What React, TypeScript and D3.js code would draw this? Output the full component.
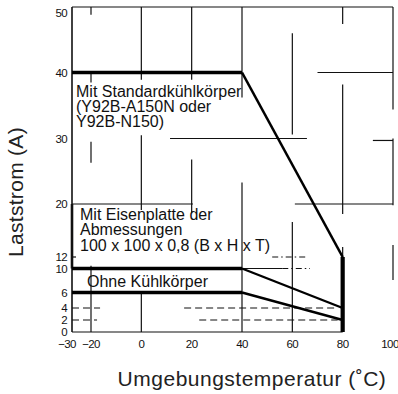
import React from "react"
import * as d3 from "d3"

// chart values
const tempTicks = [-30, -20, 0, 20, 40, 60, 80, 100]
const currentTicks = [0, 2, 4, 6, 10, 12, 20, 30, 40, 50]

const temps = [-30, 40, 80]
const standardValues = [40, 40, 12]
const eisenValues = [10, 10, 4]
const ohneValues = [6, 6, 2]

// grid pieces as they survive in the scan: [temp, fromA, toA] and [A, fromTemp, toTemp]
const vGrid = [
  [-20, 50, 48.8], [-20, 40, 38.5], [-20, 29.5, 26.3], [-20, 10.5, 0],
  [0, 50, 38.9], [0, 30.5, 19.1], [0, 6, 0],
  [20, 50, 38.9], [20, 26.8, 18.6],
  [40, 50, 36.2], [40, 23.3, 0],
  [60, 46, 30.6], [60, 17.3, 0],
  [80, 50, 47.4], [80, 38.2, 18.5], [80, 13.5, 0],
  [100, 50, 34.4], [100, 30, 19.8], [100, 13.8, 8.1],
]
const hGrid = [
  [50, -30, 100], [40, 70, 100], [30, 11.4, 65.8], [29.7, 92, 100],
  [20, -30, 20.5], [20, 61, 100], [10, 40, 56], [0, -30, 80],
]
const dashedGrid = [[4, -30, -16.4], [4, 17, 78], [2, -30, -17.6], [2, 23, 78]]
const dashDotGrid = [[12, 52, 66], [10, 56, 67]]

const W = 398
const H = 394

export default function App() {
  const x = d3.scaleLinear().domain([-30, -20, 100]).range([72, 91, 393])
  const y = d3
    .scaleLinear()
    .domain(currentTicks)
    .range([332, 320, 308, 292.5, 268.5, 257, 204, 138.5, 72.5, 7])

  const line = d3
    .line<[number, number]>()
    .x(d => x(d[0]))
    .y(d => y(d[1]))

  const pts = (vals: number[]) => temps.map((t, i) => [t, vals[i]] as [number, number])

  const font = "'Liberation Sans', Arial, Helvetica, sans-serif"
  const ink = "#111"

  return (
    <svg width={W} height={H} style={{ position: "absolute", left: 0, top: 0, background: "#fff" }}>
      <g stroke={ink} strokeWidth={1.2} fill="none">
        {vGrid.map((d, i) => (
          <line key={"v" + i} x1={x(d[0])} x2={x(d[0])} y1={y(d[1])} y2={y(d[2])} />
        ))}
        {hGrid.map((d, i) => (
          <line key={"h" + i} x1={x(d[1])} x2={x(d[2])} y1={y(d[0])} y2={y(d[0])} />
        ))}
        {dashedGrid.map((d, i) => (
          <line key={"d" + i} x1={x(d[1])} x2={x(d[2])} y1={y(d[0])} y2={y(d[0])} strokeDasharray="7 4" />
        ))}
        {dashDotGrid.map((d, i) => (
          <line key={"dd" + i} x1={x(d[1])} x2={x(d[2])} y1={y(d[0])} y2={y(d[0])} strokeDasharray="6 3 1.5 3" />
        ))}
        <line x1={x(-30)} x2={x(-30)} y1={y(50)} y2={y(0)} strokeWidth={1.6} />
        <line x1={x(-30)} x2={x(-30)} y1={y(20)} y2={y(10)} strokeWidth={2.6} />
        <line x1={x(-30)} x2={x(-30) + 4} y1={y(12)} y2={y(12)} />
      </g>

      <g stroke="#000" fill="none" strokeLinejoin="round">
        <path d={line(pts(standardValues).slice(0, 2)) || ""} strokeWidth={3.4} />
        <path d={line(pts(standardValues).slice(1)) || ""} strokeWidth={2.6} />
        <path d={line(pts(eisenValues).slice(0, 2)) || ""} strokeWidth={3.4} />
        <path d={line(pts(eisenValues).slice(1)) || ""} strokeWidth={2.4} />
        <path d={line(pts(ohneValues).slice(0, 2)) || ""} strokeWidth={3.4} />
        <path d={line(pts(ohneValues).slice(1)) || ""} strokeWidth={2.4} />
        <line
          x1={x(temps[2])}
          x2={x(temps[2])}
          y1={y(standardValues[2])}
          y2={y(0)}
          strokeWidth={4.2}
        />
      </g>

      <g fontFamily={font} fontSize={11.5} fill={ink} letterSpacing={-0.6}>
        {currentTicks.map(v => (
          <text key={"y" + v} x={67} y={Math.max(y(v), 13)} textAnchor="end" dominantBaseline="central">
            {v}
          </text>
        ))}
        {tempTicks.map(v => (
          <text
            key={"x" + v}
            x={x(v) - (v === -30 ? 5 : v === 100 ? 3 : 0)}
            y={344}
            textAnchor="middle"
            dominantBaseline="central"
          >
            {v < 0 ? "\u2212" + Math.abs(v) : v}
          </text>
        ))}
      </g>

      <g fontFamily={font} fontSize={16} fill={ink}>
        <text x={76} y={96.5}>Mit Standardkühlkörper</text>
        <text x={76} y={112}>(Y92B-A150N oder</text>
        <text x={76} y={127}>Y92B-N150)</text>
        <text x={80} y={219.5}>Mit Eisenplatte der</text>
        <text x={80} y={235}>Abmessungen</text>
        <text x={80} y={250.5}>100 x 100 x 0,8 (B x H x T)</text>
        <text x={87} y={286.5}>Ohne Kühlkörper</text>
      </g>

      <g fontFamily={font} fontSize={21} fill="#222">
        <text transform="translate(23,192) rotate(-90)" textAnchor="middle" letterSpacing={0.3}>
          Laststrom (A)
        </text>
        <text x={252} y={386} textAnchor="middle" letterSpacing={0.5}>
          Umgebungstemperatur (˚C)
        </text>
      </g>
    </svg>
  )
}
